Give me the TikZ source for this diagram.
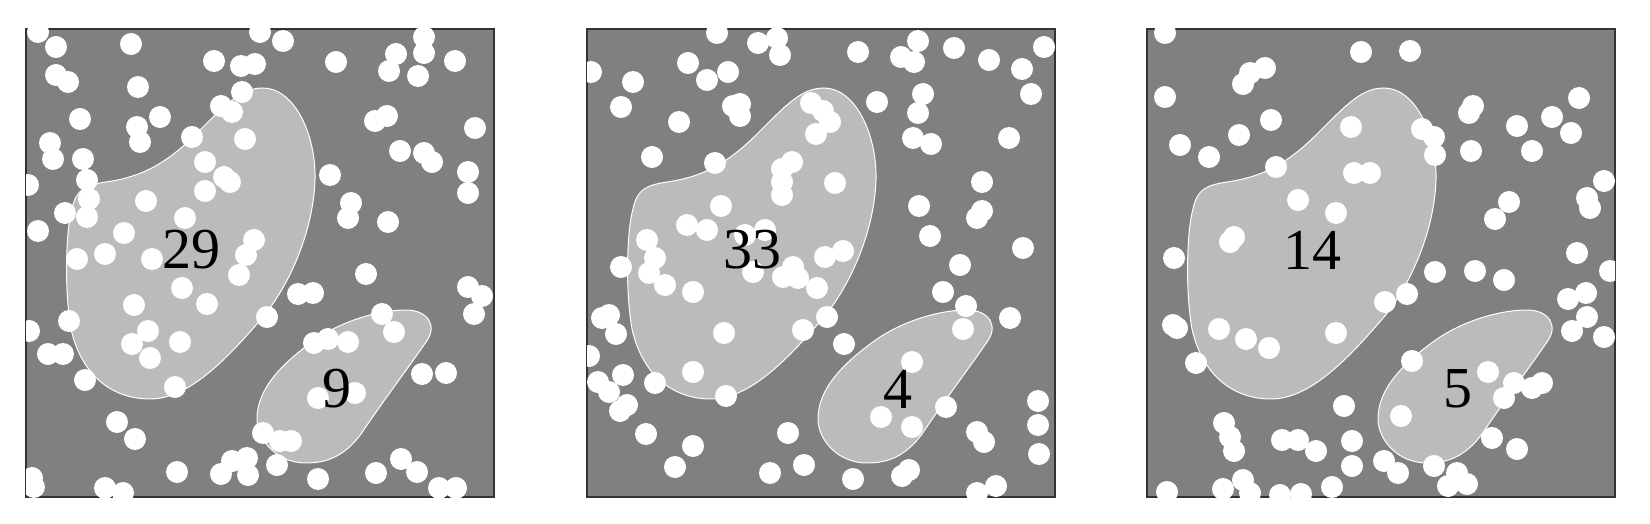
\documentclass[tikz,border=0pt]{standalone}
\usepackage{fontspec}
\setmainfont{Liberation Serif}
\definecolor{fieldgray}{RGB}{128,128,128}
\definecolor{blobgray}{RGB}{187,187,187}

\begin{document}
\begin{tikzpicture}[x=0.5pt,y=-0.5pt,
  field/.style={fill=fieldgray},
  frame/.style={draw=black!80,line width=0.7pt},
  blob/.style={fill=blobgray,draw=white,line width=0.5pt},
  dot/.style={fill=white},
  count/.style={font=\fontsize{29}{29}\selectfont,inner sep=0pt}]
  \useasboundingbox (0,0) rectangle (1650,524);
  % three fields with the same two regions
  \foreach \ox/\na/\nb [count=\i] in {26/29/9,587/33/4,1147/14/5} {
    \begin{scope}[shift={(\ox,29)}]
      \fill[field] (0,0) rectangle (468,468);
      \draw[blob] (237,59) .. controls (268,59) and (290,105) .. (289,150)
        .. controls (288,195) and (268,250) .. (237,288)
        .. controls (205,325) and (165,370) .. (124,370)
        .. controls (85,370) and (55,345) .. (45,300)
        .. controls (38,260) and (40,200) .. (46,180)
        .. controls (50,160) and (60,156) .. (80,153)
        .. controls (115,148) and (140,135) .. (170,105)
        .. controls (200,75) and (215,59) .. (237,59) -- cycle;
      \draw[blob] (380,281) .. controls (402,281) and (412,297) .. (400,313)
        .. controls (385,335) and (355,375) .. (335,405)
        .. controls (318,428) and (300,434) .. (280,434)
        .. controls (250,434) and (231,410) .. (231,390)
        .. controls (231,360) and (255,335) .. (290,310)
        .. controls (320,290) and (355,281) .. (380,281) -- cycle;
      \draw[frame] (0,0) rectangle (468,468);
    \end{scope}
  }
  % white points
  \begin{scope}[shift={(26,29)}]
    \clip (0,0) rectangle (468,468);
    \foreach \x/\y in {12/3,30/18,105/15,234/3,257/12,188/32,215/37,229/35,310/33,
      370/25,363/42,398/8,398/24,392/47,429/32,30/46,42/53,112/58,216/63,195/77,
      206/83,54/90,111/98,114/113,134/88,166/108,219/110,24/114,27/130,57/130,
      349/92,361/87,449/99,374/122,398/124,406/133,442/143,442/164,304/146,179/133,
      198/148,204/153,179/162,61/151,63/170,61/188,2/156,120/172,159/189,325/174,
      322/189,362/193,39/184,12/202,98/204,228/211,220/226,51/230,79/225,126/230,
      213/246,340/245,156/259,108/276,181/275,272/265,287/264,442/258,456/267,
      448/285,43/292,3/302,241/288,356/285,368/303,122/302,106/315,124/329,154/313,
      22/325,37/325,288/314,302/310,322/313,59/351,149/358,396/345,420/344,292/369,
      329/364,91/393,109/410,237/404,254/412,265/412,206/432,221/429,195/445,
      222/446,251/436,151/443,292/450,350/444,375/430,391/443,413/459,430/459,
      6/449,8/458,79/459,97/464}
      \fill[dot] (\x,\y) circle[radius=5.5pt];
  \end{scope}
  \begin{scope}[shift={(587,29)}]
    \clip (0,0) rectangle (468,468);
    \foreach \x/\y in {130/4,171/14,190/9,193/26,4/43,101/34,46/53,120/51,141/43,
      271/23,314/28,331/12,327/33,367/19,402/31,435/40,457/18,444/65,34/78,92/93,
      146/77,153/75,153/87,290/73,336/65,331/84,326/109,344/115,422/109,224/74,
      236/82,243/93,229/105,65/128,128/134,205/133,195/140,195/153,195/166,248/154,
      395/153,395/182,390/189,332/177,343/207,436/219,134/177,100/196,120/201,
      60/211,68/229,34/238,158/206,178/201,238/228,256/222,206/238,373/236,62/244,
      78/256,106/263,166/243,196/248,211/249,230/259,356/263,379/277,376/300,
      423/289,240/288,216/301,137/304,257/315,15/289,22/286,29/305,2/327,36/346,
      11/353,22/363,40/376,33/382,68/354,106/343,139/367,325/333,294/388,325/398,
      359/378,451/372,451/396,452/425,390/403,397/413,59/405,106/417,88/438,
      201/404,217/436,183/444,266/450,315/447,322/441,390/464,409/457}
      \fill[dot] (\x,\y) circle[radius=5.5pt];
  \end{scope}
  \begin{scope}[shift={(1147,29)}]
    \clip (0,0) rectangle (468,468);
    \foreach \x/\y in {18/4,214/23,263/22,103/44,118/39,96/55,18/68,124/91,92/106,
      33/116,62/128,204/98,129/138,275/100,287/108,288/126,326/77,322/84,324/122,
      370/97,385/122,405/88,424/104,432/69,207/144,223/144,151/171,189/184,457/152,
      362/173,348/190,440/169,443/179,87/208,83/213,27/229,430/224,288/243,328/242,
      357/251,463/242,421/270,439/264,440/288,425/302,457/308,238/273,260/265,
      26/296,30/299,72/300,99/310,122/319,189/304,49/334,265/332,341/343,367/354,
      395/354,385/359,357/369,197/377,254/387,77/394,83/408,87/422,135/411,151/411,
      169/422,205/412,205/437,345/409,370/420,237/432,251/444,287/437,310/444,
      320/455,301/457,20/463,76/460,96/451,103/464,133/466,154/465,185/458}
      \fill[dot] (\x,\y) circle[radius=5.5pt];
  \end{scope}
  % counts
  \foreach \ox/\na/\nb [count=\i] in {26/29/9,587/33/4,1147/14/5} {
    \begin{scope}[shift={(\ox,29)}]
      \node[count] (big\i) at (165,221) {\na};
      \node[count] (small\i) at (311,360) {\nb};
    \end{scope}
  }
\end{tikzpicture}
\end{document}
